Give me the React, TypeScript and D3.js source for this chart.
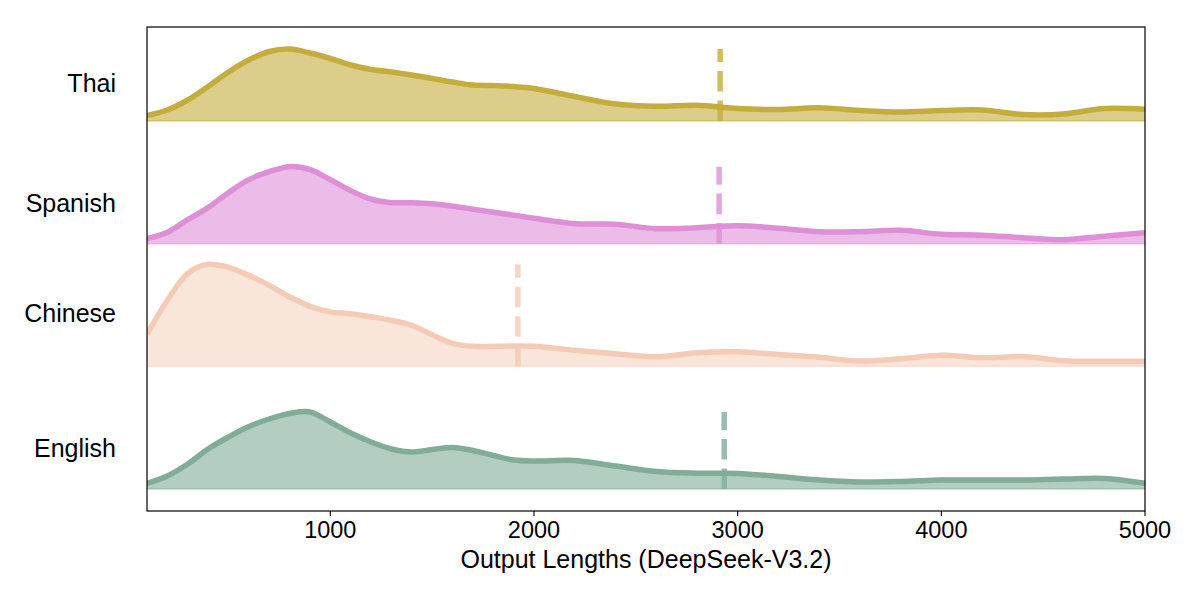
import React from "react";
import * as d3 from "d3";

const lengths = [
  100, 200, 300, 400, 500, 600, 700, 800, 900, 1000, 1100, 1200, 1300, 1400, 1500,
  1600, 1700, 1800, 1900, 2000, 2200, 2400, 2600, 2800, 3000, 3200, 3400, 3600,
  3800, 4000, 4200, 4400, 4600, 4800, 5000,
];

// Languages, bottom to top
const languages = ["English", "Chinese", "Spanish", "Thai"];

// Relative density (arbitrary units) per language on the length grid
const englishDensity = [
  5.5, 13, 25, 40, 52, 62.5, 70, 75.5, 77, 67, 56, 47, 40, 37, 39.5, 41.5, 38.5, 33.5,
  29, 28, 28.5, 23, 17.5, 15.8, 15.6, 12.5, 9, 7, 7.5, 9, 9, 9, 10, 10.5, 5.7,
];
const chineseDensity = [
  32, 66, 93, 102, 99, 91, 81, 69.5, 60, 54.5, 52.5, 49.5, 46, 41, 31.5, 23, 20, 20,
  20.3, 20, 16, 12.5, 9.5, 13.5, 14.5, 11.8, 9, 5.3, 7.5, 11, 8.5, 9.8, 5.5, 5, 5,
];
const spanishDensity = [
  5, 11.5, 24, 36, 51, 64, 72, 77, 74, 64, 53, 44.5, 41, 41, 40, 37.5, 34.5, 31.5,
  28.5, 25.5, 20, 19.5, 15, 16, 18, 15.5, 12, 12, 13.3, 9.5, 8.5, 6, 4, 7.5, 11,
];
const thaiDensity = [
  5.5, 11, 21, 34.5, 49, 61, 69.5, 72, 68, 62.5, 56, 51.5, 49, 46, 42.5, 39, 36, 35.5,
  34.5, 32.5, 24.5, 17, 14.8, 15.8, 12.5, 11.5, 13.2, 10.5, 9, 10.5, 11, 6.5, 7, 12.5,
  11.7,
];
const densities = [englishDensity, chineseDensity, spanishDensity, thaiDensity];

// Mean output length per language
const meanLengths = [2934, 1921, 2909, 2914];

const lineColors = ["#80AC98", "#F5CBB5", "#DE8FD8", "#C4AD3C"];
const fillOpacities = [0.6, 0.5, 0.6, 0.6];

const xTicks = [1000, 2000, 3000, 4000, 5000];
const xLabel = "Output Lengths (DeepSeek-V3.2)";

const FONT = "'Liberation Sans', Arial, sans-serif";

export default function App() {
  const W = 1200;
  const H = 600;
  const left = 147;
  const right = 1145;
  const top = 27;
  const bottom = 511;

  const x = d3.scaleLinear().domain([100, 5000]).range([left, right]);
  const base = d3.scalePoint<string>().domain(languages).range([489, 121]);
  const hScale = d3.scaleLinear().domain([0, 100]).range([0, 100]);
  const curve = d3.curveCatmullRom.alpha(0.5);

  return (
    <svg
      width={W}
      height={H}
      style={{ position: "absolute", left: 0, top: 0, background: "#fff" }}
      fontFamily={FONT}
    >
      <defs>
        <clipPath id="plotClip">
          <rect x={left} y={top} width={right - left} height={bottom - top} />
        </clipPath>
      </defs>
      <g clipPath="url(#plotClip)">
        {languages.map((lang, i) => {
          const b = base(lang) as number;
          const vals = densities[i];
          const pts: [number, number][] = lengths.map((l, j) => [l, vals[j]]);
          const area = d3
            .area<[number, number]>()
            .x((d) => x(d[0]))
            .y0(b)
            .y1((d) => b - hScale(d[1]))
            .curve(curve);
          const line = d3
            .line<[number, number]>()
            .x((d) => x(d[0]))
            .y((d) => b - hScale(d[1]))
            .curve(curve);
          const maxV = d3.max(vals) as number;
          const mx = x(meanLengths[i]);
          return (
            <g key={lang}>
              <path d={area(pts) || ""} fill={lineColors[i]} fillOpacity={fillOpacities[i]} />
              <line
                x1={left}
                x2={right}
                y1={b}
                y2={b}
                stroke={lineColors[i]}
                strokeOpacity={0.5}
                strokeWidth={1.5}
              />
              <path
                d={line(pts) || ""}
                fill="none"
                stroke={lineColors[i]}
                strokeWidth={5.5}
                strokeLinejoin="round"
              />
              <line
                x1={mx}
                x2={mx}
                y1={b}
                y2={b - hScale(maxV)}
                stroke={lineColors[i]}
                strokeOpacity={0.8}
                strokeWidth={5.5}
                strokeDasharray="20.6 8.9"
              />
            </g>
          );
        })}
      </g>
      {/* y category labels */}
      {languages.map((lang, i) => {
        const b = base(lang) as number;
        const maxV = d3.max(densities[i]) as number;
        return (
          <text
            key={lang}
            x={116}
            y={b - hScale(maxV) / 2 - 2}
            dy="0.35em"
            textAnchor="end"
            fontSize={25}
            fill="#000"
          >
            {lang}
          </text>
        );
      })}
      {/* axes frame */}
      <rect
        x={left}
        y={top}
        width={right - left}
        height={bottom - top}
        fill="none"
        stroke="#000"
        strokeWidth={1.2}
      />
      {/* x ticks */}
      {xTicks.map((t) => (
        <g key={t} transform={`translate(${x(t)},${bottom})`}>
          <line y1={0} y2={5} stroke="#000" strokeWidth={1.1} />
          <text y={26.5} textAnchor="middle" fontSize={23.5} fill="#000">
            {t}
          </text>
        </g>
      ))}
      <text x={(left + right) / 2} y={567.5} textAnchor="middle" fontSize={25} fill="#000">
        {xLabel}
      </text>
    </svg>
  );
}
